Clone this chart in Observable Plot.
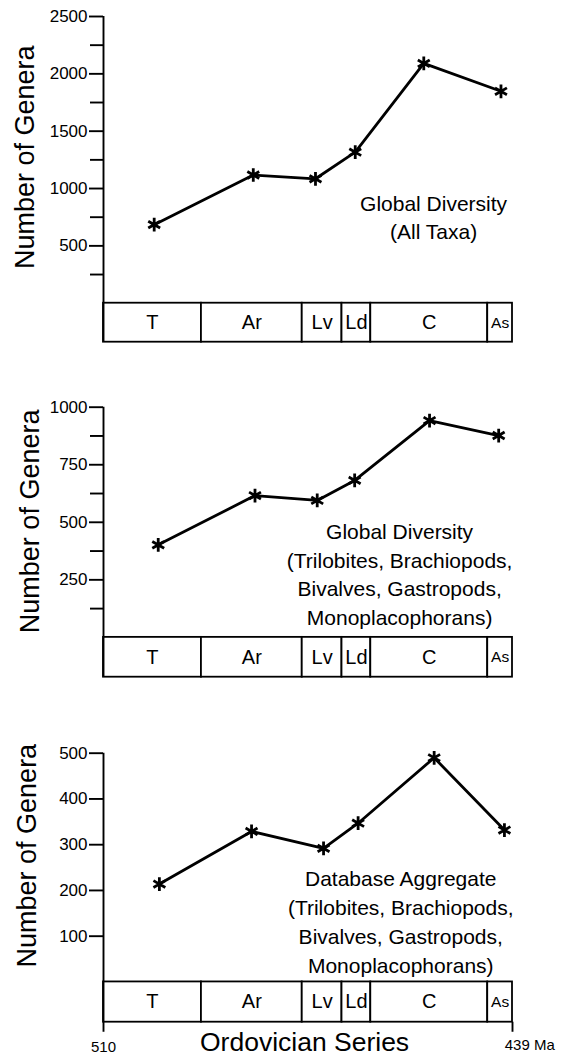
<!DOCTYPE html>
<html>
<head>
<meta charset="utf-8">
<script src="https://cdn.jsdelivr.net/npm/d3@7"></script>
<script src="https://cdn.jsdelivr.net/npm/@observablehq/plot@0.6"></script>
<style>
  html, body { margin: 0; padding: 0; background: white; }
  #chart { width: 566px; height: 1058px; overflow: hidden; }
  #chart svg { display: block; }
</style>
</head>
<body>
<div id="chart"></div>
<script>
// Ordovician series (stages), boundaries in Ma
const stageNames = ["T", "Ar", "Lv", "Ld", "C", "As"];
const stageStart = [510, 493, 475.5, 468.6, 463.6, 443.3];
const stageEnd   = [493, 475.5, 468.6, 463.6, 443.3, 439];

// Panel 1: Global diversity (all taxa)
const ages1   = [501.2, 484.0, 473.2, 466.3, 454.4, 441.0];
const genera1 = [685, 1118, 1085, 1317, 2091, 1848];
const major1  = [500, 1000, 1500, 2000, 2500];
const minor1  = [250, 750, 1250, 1750, 2250];
const note1   = "Global Diversity\n(All Taxa)";

// Panel 2: Global diversity (five classes)
const ages2   = [500.5, 483.7, 472.9, 466.4, 453.4, 441.4];
const genera2 = [402, 616, 595, 682, 942, 877];
const major2  = [250, 500, 750, 1000];
const minor2  = [125, 375, 625, 875];
const note2   = "Global Diversity\n(Trilobites, Brachiopods,\nBivalves, Gastropods,\nMonoplacophorans)";

// Panel 3: Database aggregate
const ages3   = [500.3, 484.3, 471.8, 465.8, 452.6, 440.4];
const genera3 = [214, 329, 292, 347, 490, 332];
const major3  = [100, 200, 300, 400, 500];
const minor3  = [];
const note3   = "Database Aggregate\n(Trilobites, Brachiopods,\nBivalves, Gastropods,\nMonoplacophorans)";

const yLabel = "Number of Genera";
const xLabel = "Ordovician Series";
const ageLabels = ["510", "439 Ma"];

const FONT = "'Liberation Sans', Arial, Helvetica, sans-serif";
const stages = stageNames.map((name, i) => ({name, start: stageStart[i], end: stageEnd[i]}));

function panel(cfg) {
  const pts = cfg.ages.map((a, i) => ({age: a, n: cfg.genera[i]}));
  const [yb, yt] = cfg.yDomain;
  const marks = [
    // stage bar
    Plot.rect(stages, {x1: "start", x2: "end", y1: yb, y2: 0, fill: "white", stroke: "black", strokeWidth: 1.8}),
    Plot.text(stages, {
      x: d => (d.start + d.end) / 2, y: yb / 2, text: "name",
      fontSize: d => d.name === "As" ? 15.5 : 20, lineAnchor: "middle", fill: "black"
    }),
    // y axis line
    Plot.ruleX([510], {y1: yb, y2: yt, stroke: "black", strokeWidth: 1.9}),
    Plot.axisY({ticks: cfg.major, tickSize: 14, tickPadding: 2, fontSize: 17, label: null,
                tickFormat: d => String(d), strokeWidth: 1.9}),
    ...(cfg.minor.length ? [Plot.axisY({ticks: cfg.minor, tickSize: 13, tickPadding: 2, label: null,
                tickFormat: () => "", strokeWidth: 1.9})] : []),
    // y label
    Plot.text([yLabel], {x: cfg.yLab[0], y: cfg.yLab[1], text: d => d, rotate: -90,
                fontSize: 27, lineAnchor: "middle", fill: "black"}),
    // series
    Plot.line(pts, {x: "age", y: "n", stroke: "black", strokeWidth: 2.8}),
    Plot.dot(pts, {x: "age", y: "n", symbol: "asterisk", r: 6.5, stroke: "black", strokeWidth: 2.8}),
    // annotation
    Plot.text([cfg.note], {x: cfg.notePos[0], y: cfg.notePos[1], text: d => d, fontSize: 21,
                lineHeight: cfg.lineHeight, lineAnchor: "middle", fill: "black"})
  ];
  if (cfg.bottom) {
    const ys = cfg.bottom;
    marks.push(
      Plot.ruleX([510, 439], {y1: yb, y2: ys.tickEnd, stroke: "black", strokeWidth: 1.9}),
      Plot.text([ageLabels[0]], {x: 510, y: ys.age, text: d => d, fontSize: 15, lineAnchor: "middle", fill: "black"}),
      Plot.text([ageLabels[1]], {x: 436.0, y: ys.age + 3, text: d => d, fontSize: 15, lineAnchor: "middle", fill: "black"}),
      Plot.text([xLabel], {x: 475.1, y: ys.label, text: d => d, fontSize: 26.5, lineAnchor: "bottom", fill: "black"})
    );
  }
  return Plot.plot({
    width: 566,
    height: cfg.height,
    marginLeft: 103,
    marginRight: 54,
    marginTop: cfg.yRange[1],
    marginBottom: cfg.height - cfg.yRange[0],
    x: {domain: [510, 439], range: [103, 512], axis: null},
    y: {domain: cfg.yDomain, range: cfg.yRange},
    style: {fontFamily: FONT, background: "white", color: "black", overflow: "visible"},
    marks
  });
}

const chart = document.getElementById("chart");
chart.append(panel({
  height: 350, yDomain: [-340, 2500], yRange: [341.7, 16],
  ages: ages1, genera: genera1, major: major1, minor: minor1,
  note: note1, notePos: [452.7, 760], lineHeight: 1.36, yLab: [523.5, 1273]
}));
chart.append(panel({
  height: 350, yDomain: [-173, 1000], yRange: [326.7, 56.7],
  ages: ages2, genera: genera2, major: major2, minor: minor2,
  note: note2, notePos: [458.6, 280], lineHeight: 1.35, yLab: [522.7, 504]
}));
chart.append(panel({
  height: 358, yDomain: [-88, 500], yRange: [321.7, 52.7],
  ages: ages3, genera: genera3, major: major3, minor: minor3,
  note: note3, notePos: [458.4, 135], lineHeight: 1.37, yLab: [523.2, 276],
  bottom: {tickEnd: -110, age: -142, label: -151.5}
}));
</script>
</body>
</html>
